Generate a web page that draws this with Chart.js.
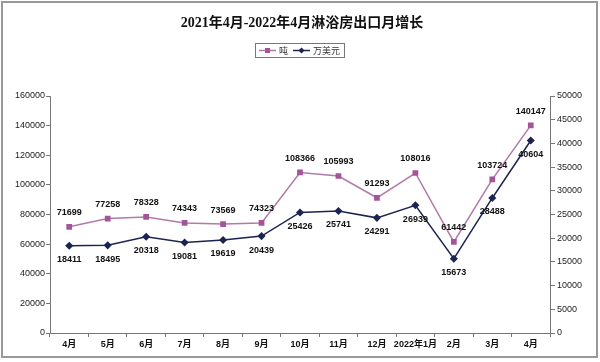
<!DOCTYPE html>
<html lang="zh">
<head>
  <meta charset="UTF-8" />
  <title>淋浴房出口月增长</title>
  <script src="https://cdn.jsdelivr.net/npm/chart.js"></script>
  <style>
    body { margin: 0; background: #fff; }
    #wrap { width: 600px; height: 362px; position: relative; }
  </style>
</head>
<body>
  <div id="wrap"><canvas id="exportChart" width="600" height="362"></canvas></div>

  <script>
    const months = ['4月', '5月', '6月', '7月', '8月', '9月', '10月', '11月', '12月', '2022年1月', '2月', '3月', '4月'];
    const tons = [71699, 77258, 78328, 74343, 73569, 74323, 108366, 105993, 91293, 108016, 61442, 103724, 140147];
    const usd = [18411, 18495, 20318, 19081, 19619, 20439, 25426, 25741, 24291, 26939, 15673, 28488, 40604];

    const titleText = '2021年4月-2022年4月淋浴房出口月增长';
    const pink = '#a4559a';
    const pinkLine = '#b27aa9';
    const navy = '#1c2452';

    // frame, title, legend and value labels
    const decor = {
      id: 'decor',
      beforeDraw(chart) {
        const c = chart.ctx;
        c.save();
        c.fillStyle = '#fff';
        c.fillRect(0, 0, chart.width, chart.height);
        c.strokeStyle = '#999';
        c.lineWidth = 2;
        c.strokeRect(2, 2, 595, 355);
        c.restore();
      },
      afterDraw(chart) {
        const c = chart.ctx;
        c.save();
        c.fillStyle = '#111';
        c.font = 'bold 14px "Liberation Serif", "Noto Sans CJK SC", serif';
        c.textAlign = 'center';
        c.textBaseline = 'middle';
        c.fillText(titleText, 302, 23);

        // legend
        c.font = '9px "Noto Sans CJK SC", sans-serif';
        const items = [
          { text: '吨', color: pink, line: pinkLine, style: 'rect' },
          { text: '万美元', color: navy, line: navy, style: 'diamond' }
        ];
        const lineW = 17, gap = 3, itemGap = 5, padX = 4;
        let total = padX * 2;
        items.forEach((it, i) => {
          it.w = lineW + gap + c.measureText(it.text).width;
          total += it.w + (i ? itemGap : 0);
        });
        const bx = Math.round(300 - total / 2), by = 43, bh = 14;
        c.strokeStyle = '#777';
        c.lineWidth = 1;
        c.strokeRect(bx + 0.5, by + 0.5, total, bh);
        let x = bx + padX;
        const cy = by + bh / 2 + 0.5;
        items.forEach((it, i) => {
          if (i) x += itemGap;
          c.strokeStyle = it.line;
          c.lineWidth = 1.5;
          c.beginPath();
          c.moveTo(x, cy);
          c.lineTo(x + lineW, cy);
          c.stroke();
          c.fillStyle = it.color;
          const mx = x + lineW / 2;
          if (it.style === 'rect') {
            c.fillRect(mx - 2.5, cy - 2.5, 5, 5);
          } else {
            c.beginPath();
            c.moveTo(mx, cy - 3);
            c.lineTo(mx + 3, cy);
            c.lineTo(mx, cy + 3);
            c.lineTo(mx - 3, cy);
            c.closePath();
            c.fill();
          }
          c.fillStyle = '#333';
          c.textAlign = 'left';
          c.fillText(it.text, x + lineW + gap, cy);
          x += it.w;
        });

        // value labels: tons above, usd below
        c.font = 'bold 9px "Liberation Sans", Arial, sans-serif';
        c.fillStyle = '#111';
        c.textAlign = 'center';
        chart.data.datasets.forEach((ds, di) => {
          const meta = chart.getDatasetMeta(di);
          meta.data.forEach((pt, i) => {
            const dy = di === 0 ? -14 : 14;
            c.fillText(String(ds.data[i]), pt.x, pt.y + dy);
          });
        });
        c.restore();
      }
    };

    const tickFont = { family: '"Liberation Sans", Arial, sans-serif', size: 9 };
    const plain = v => String(v);

    new Chart(document.getElementById('exportChart'), {
      type: 'line',
      data: {
        labels: months,
        datasets: [
          {
            label: '吨',
            data: tons,
            yAxisID: 'y',
            borderColor: pinkLine,
            backgroundColor: pink,
            pointBackgroundColor: pink,
            pointBorderColor: pink,
            pointStyle: 'rect',
            pointRadius: 3,
            borderWidth: 1.5,
            tension: 0
          },
          {
            label: '万美元',
            data: usd,
            yAxisID: 'y1',
            borderColor: navy,
            backgroundColor: navy,
            pointBackgroundColor: navy,
            pointBorderColor: navy,
            pointStyle: 'rectRot',
            pointRadius: 3,
            borderWidth: 1.5,
            tension: 0
          }
        ]
      },
      options: {
        responsive: false,
        animation: false,
        layout: { padding: { top: 96, left: 0, right: 0, bottom: 0 } },
        plugins: {
          legend: { display: false },
          title: { display: false },
          tooltip: { enabled: false }
        },
        scales: {
          x: {
            offset: true,
            grid: { offset: true, drawOnChartArea: false, tickLength: 4, color: '#777' },
            border: { color: '#777', width: 1 },
            ticks: {
              color: '#111',
              font: { family: '"Liberation Sans", "Noto Sans CJK SC", sans-serif', size: 9, weight: 'bold' },
              padding: 2,
              maxRotation: 0,
              autoSkip: false
            },
            afterFit(s) { s.height = 29; }
          },
          y: {
            position: 'left',
            min: 0,
            max: 160000,
            grid: { drawOnChartArea: false, tickLength: 4, color: '#777' },
            border: { color: '#777', width: 1 },
            ticks: { stepSize: 20000, color: '#222', font: tickFont, padding: 1, callback: plain },
            afterFit(s) { s.width = 50; }
          },
          y1: {
            position: 'right',
            min: 0,
            max: 50000,
            grid: { drawOnChartArea: false, tickLength: 5, color: '#777' },
            border: { color: '#777', width: 1 },
            ticks: { stepSize: 5000, color: '#222', font: tickFont, padding: 2, callback: plain },
            afterFit(s) { s.width = 50; }
          }
        }
      },
      plugins: [decor]
    });
  </script>
</body>
</html>
